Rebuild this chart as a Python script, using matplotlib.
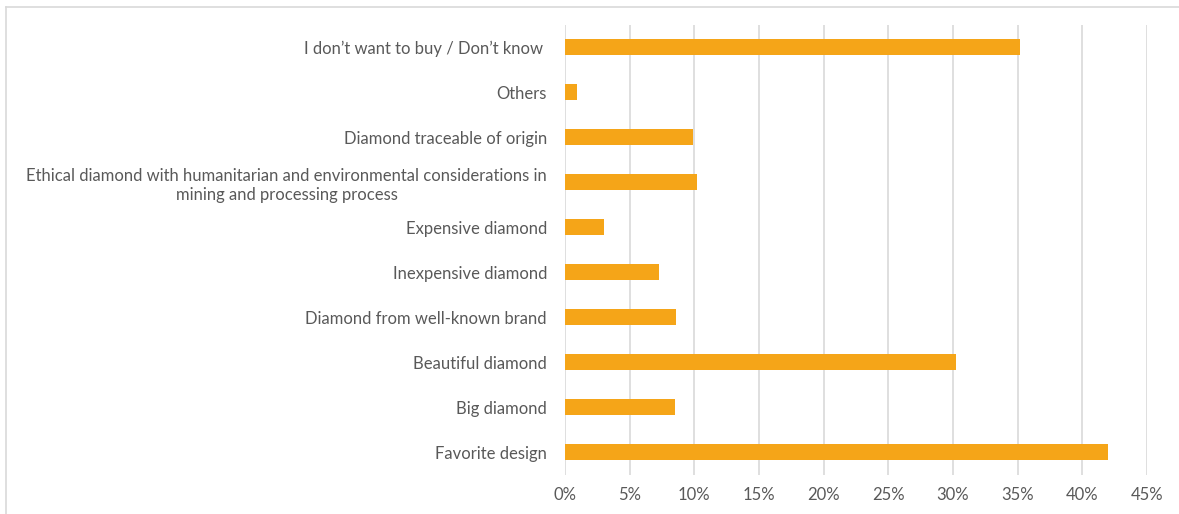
import matplotlib.pyplot as plt
from matplotlib.lines import Line2D
from matplotlib.ticker import MultipleLocator, FuncFormatter

# survey answers, top to bottom
categories = [
    "I don\u2019t want to buy / Don\u2019t know ",
    "Others",
    "Diamond traceable of origin",
    "Ethical diamond with humanitarian and environmental considerations in\nmining and processing process",
    "Expensive diamond",
    "Inexpensive diamond",
    "Diamond from well-known brand",
    "Beautiful diamond",
    "Big diamond",
    "Favorite design",
]
shares = [35.2, 0.9, 9.9, 10.2, 3.0, 7.3, 8.6, 30.2, 8.5, 42.0]

bar_color = "#F5A518"
text_color = "#595959"
grid_color = "#D9D9D9"

plt.rcParams["font.family"] = ["Lato", "DejaVu Sans"]

fig = plt.figure(figsize=(11.79, 5.14), dpi=100)
ax = fig.add_axes([0.4792, 0.0768, 0.4937, 0.8755])

ypos = list(range(len(categories)))[::-1]
ax.barh(ypos, shares, height=0.36, color=bar_color, zorder=3)

ax.set_xlim(0, 45)
ax.set_ylim(-0.5, len(categories) - 0.5)
ax.xaxis.set_major_locator(MultipleLocator(5))
ax.xaxis.set_major_formatter(FuncFormatter(lambda v, p: f"{v:.0f}%"))
ax.set_yticks(ypos)
ax.set_yticklabels(categories, multialignment="center", linespacing=1.25)
ax.grid(axis="x", color=grid_color, linewidth=1.2, zorder=0)
for s in ax.spines.values():
    s.set_visible(False)
ax.tick_params(axis="both", length=0, colors=text_color, labelsize=12)
ax.tick_params(axis="y", pad=13)
ax.tick_params(axis="x", pad=9)

# outer chart frame (only top and left edges fall inside the image)
fig.add_artist(Line2D([6 / 1179, 1], [1 - 7 / 514, 1 - 7 / 514],
                      transform=fig.transFigure, color=grid_color, lw=1.2))
fig.add_artist(Line2D([6 / 1179, 6 / 1179], [0, 1 - 7 / 514],
                      transform=fig.transFigure, color=grid_color, lw=1.2))

fig.savefig("out.png", dpi=100)
